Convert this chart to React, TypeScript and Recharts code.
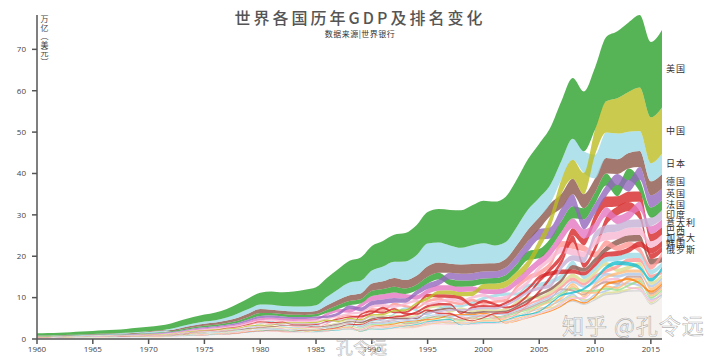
import { AreaChart, Area, XAxis, YAxis, ReferenceDot } from 'recharts';

// GDP, 万亿美元, 1960-2016
const years = Array.from({ length: 57 }, (_, i) => 1960 + i);

// sum of all countries as drawn (top edge of the stack)
const total = [
  1.37, 1.42, 1.53, 1.64, 1.8, 1.96, 2.13, 2.26, 2.44, 2.69,
  2.96, 3.26, 3.77, 4.59, 5.3, 5.9, 6.42, 7.26, 8.53, 9.93,
  11.2, 11.5, 11.3, 11.5, 11.9, 12.5, 14.8, 16.9, 18.9, 19.7,
  22.5, 23.7, 25.2, 25.6, 27.5, 30.7, 31.4, 31.2, 31.1, 32.3,
  33.4, 33.2, 34.4, 38.6, 43.5, 47.2, 51.1, 57.6, 63.1, 59.8,
  65.6, 73.0, 74.4, 76.5, 78.3, 71.8, 74.7,
];

const usa = [
  0.543, 0.563, 0.605, 0.638, 0.686, 0.744, 0.815, 0.862, 0.943, 1.02,
  1.073, 1.165, 1.28, 1.425, 1.545, 1.684, 1.873, 2.082, 2.352, 2.627,
  2.857, 3.207, 3.343, 3.634, 4.037, 4.339, 4.58, 4.855, 5.236, 5.642,
  5.963, 6.158, 6.52, 6.859, 7.287, 7.64, 8.073, 8.578, 9.063, 9.631,
  10.252, 10.582, 10.936, 11.458, 12.214, 13.037, 13.815, 14.452, 14.713, 14.449,
  14.992, 15.543, 16.197, 16.785, 17.527, 18.238, 18.745,
];
const china = [
  0.06, 0.05, 0.047, 0.051, 0.06, 0.071, 0.077, 0.073, 0.071, 0.08,
  0.093, 0.1, 0.114, 0.139, 0.144, 0.163, 0.154, 0.175, 0.149, 0.178,
  0.191, 0.196, 0.205, 0.231, 0.26, 0.309, 0.301, 0.273, 0.312, 0.348,
  0.361, 0.383, 0.427, 0.445, 0.564, 0.734, 0.864, 0.962, 1.029, 1.094,
  1.211, 1.339, 1.471, 1.66, 1.955, 2.286, 2.752, 3.552, 4.598, 5.11,
  6.101, 7.573, 8.561, 9.607, 10.482, 11.065, 11.191,
];
const japan = [
  0.044, 0.054, 0.06, 0.068, 0.082, 0.091, 0.106, 0.124, 0.147, 0.172,
  0.213, 0.24, 0.318, 0.432, 0.479, 0.522, 0.577, 0.721, 1.014, 1.055,
  1.105, 1.218, 1.135, 1.243, 1.318, 1.399, 2.079, 2.532, 3.072, 3.054,
  3.133, 3.585, 3.909, 4.454, 4.907, 5.449, 4.834, 4.414, 4.033, 4.562,
  4.888, 4.304, 4.115, 4.445, 4.815, 4.755, 4.53, 4.515, 5.038, 5.231,
  5.7, 6.157, 6.203, 5.155, 4.85, 4.395, 4.949,
];
const germany = [
  0.072, 0.08, 0.088, 0.094, 0.103, 0.114, 0.122, 0.125, 0.136, 0.154,
  0.216, 0.249, 0.3, 0.398, 0.445, 0.489, 0.52, 0.6, 0.74, 0.882,
  0.95, 0.801, 0.776, 0.77, 0.726, 0.744, 1.051, 1.303, 1.401, 1.398,
  1.765, 1.869, 2.132, 2.071, 2.206, 2.592, 2.504, 2.218, 2.243, 2.2,
  1.948, 1.945, 2.079, 2.505, 2.816, 2.846, 2.994, 3.425, 3.745, 3.411,
  3.417, 3.758, 3.544, 3.753, 3.89, 3.376, 3.467,
];
const uk = [
  0.073, 0.077, 0.081, 0.086, 0.094, 0.1, 0.106, 0.111, 0.105, 0.112,
  0.125, 0.14, 0.16, 0.186, 0.206, 0.242, 0.233, 0.263, 0.335, 0.438,
  0.565, 0.54, 0.515, 0.489, 0.462, 0.489, 0.601, 0.745, 0.91, 0.926,
  1.093, 1.142, 1.179, 1.061, 1.14, 1.335, 1.405, 1.553, 1.644, 1.687,
  1.665, 1.649, 1.786, 2.064, 2.422, 2.539, 2.713, 3.101, 2.923, 2.411,
  2.475, 2.659, 2.704, 2.786, 3.065, 2.933, 2.694,
];
const france = [
  0.062, 0.068, 0.076, 0.085, 0.094, 0.101, 0.11, 0.119, 0.13, 0.141,
  0.148, 0.166, 0.204, 0.264, 0.286, 0.36, 0.373, 0.41, 0.507, 0.613,
  0.701, 0.615, 0.585, 0.559, 0.53, 0.553, 0.771, 0.934, 1.019, 1.025,
  1.269, 1.269, 1.401, 1.322, 1.394, 1.601, 1.605, 1.452, 1.503, 1.492,
  1.362, 1.377, 1.494, 1.841, 2.116, 2.196, 2.319, 2.657, 2.918, 2.69,
  2.643, 2.862, 2.681, 2.808, 2.85, 2.434, 2.466,
];
const india = [
  0.037, 0.039, 0.042, 0.048, 0.056, 0.059, 0.046, 0.05, 0.053, 0.058,
  0.062, 0.067, 0.071, 0.085, 0.099, 0.098, 0.102, 0.121, 0.137, 0.152,
  0.186, 0.196, 0.204, 0.222, 0.216, 0.235, 0.253, 0.283, 0.301, 0.301,
  0.327, 0.274, 0.293, 0.284, 0.333, 0.367, 0.4, 0.423, 0.429, 0.467,
  0.477, 0.494, 0.524, 0.618, 0.722, 0.834, 0.949, 1.239, 1.224, 1.365,
  1.708, 1.823, 1.828, 1.857, 2.039, 2.104, 2.274,
];
const italy = [
  0.04, 0.045, 0.05, 0.058, 0.063, 0.067, 0.073, 0.081, 0.087, 0.097,
  0.113, 0.124, 0.145, 0.175, 0.2, 0.227, 0.226, 0.258, 0.316, 0.394,
  0.477, 0.43, 0.427, 0.441, 0.436, 0.449, 0.644, 0.806, 0.89, 0.926,
  1.178, 1.243, 1.316, 1.063, 1.102, 1.171, 1.312, 1.242, 1.271, 1.253,
  1.146, 1.168, 1.271, 1.576, 1.806, 1.857, 1.948, 2.212, 2.408, 2.199,
  2.136, 2.294, 2.087, 2.141, 2.159, 1.835, 1.865,
];
const brazil = [
  0.015, 0.015, 0.02, 0.023, 0.021, 0.022, 0.027, 0.031, 0.033, 0.037,
  0.042, 0.049, 0.058, 0.083, 0.109, 0.124, 0.153, 0.177, 0.201, 0.224,
  0.235, 0.263, 0.281, 0.203, 0.209, 0.223, 0.268, 0.294, 0.33, 0.425,
  0.462, 0.602, 0.4, 0.437, 0.558, 0.769, 0.85, 0.883, 0.864, 0.6,
  0.655, 0.56, 0.51, 0.558, 0.669, 0.892, 1.108, 1.397, 1.696, 1.667,
  2.209, 2.616, 2.465, 2.473, 2.456, 1.802, 1.796,
];
const canada = [
  0.041, 0.041, 0.042, 0.045, 0.049, 0.054, 0.06, 0.064, 0.07, 0.077,
  0.088, 0.1, 0.114, 0.131, 0.16, 0.174, 0.207, 0.212, 0.219, 0.243,
  0.274, 0.306, 0.314, 0.341, 0.354, 0.364, 0.377, 0.432, 0.507, 0.566,
  0.594, 0.61, 0.592, 0.578, 0.579, 0.604, 0.629, 0.654, 0.634, 0.679,
  0.744, 0.739, 0.76, 0.895, 1.026, 1.173, 1.319, 1.469, 1.553, 1.371,
  1.613, 1.789, 1.824, 1.842, 1.799, 1.556, 1.528,
];
const korea = [
  0.004, 0.002, 0.003, 0.004, 0.003, 0.003, 0.004, 0.005, 0.006, 0.008,
  0.009, 0.01, 0.011, 0.014, 0.019, 0.022, 0.03, 0.039, 0.052, 0.066,
  0.065, 0.072, 0.078, 0.087, 0.097, 0.101, 0.116, 0.147, 0.196, 0.243,
  0.279, 0.326, 0.35, 0.386, 0.455, 0.556, 0.598, 0.558, 0.375, 0.486,
  0.562, 0.533, 0.609, 0.681, 0.765, 0.898, 1.012, 1.123, 1.002, 0.902,
  1.094, 1.202, 1.223, 1.306, 1.411, 1.383, 1.415,
];
const russia = [
  0, 0, 0, 0, 0, 0, 0, 0, 0, 0,
  0, 0, 0, 0, 0, 0, 0, 0, 0, 0,
  0, 0, 0, 0, 0, 0, 0, 0, 0, 0.506,
  0.517, 0.518, 0.46, 0.435, 0.395, 0.395, 0.392, 0.405, 0.271, 0.196,
  0.26, 0.307, 0.345, 0.43, 0.591, 0.764, 0.99, 1.3, 1.661, 1.223,
  1.525, 2.032, 2.17, 2.231, 2.064, 1.366, 1.285,
];
const spain = [
  0.012, 0.014, 0.016, 0.019, 0.022, 0.025, 0.029, 0.032, 0.032, 0.037,
  0.041, 0.046, 0.056, 0.072, 0.088, 0.105, 0.107, 0.117, 0.14, 0.182,
  0.232, 0.203, 0.196, 0.171, 0.172, 0.18, 0.251, 0.318, 0.375, 0.413,
  0.535, 0.576, 0.63, 0.525, 0.529, 0.612, 0.64, 0.588, 0.617, 0.633,
  0.596, 0.627, 0.708, 0.907, 1.069, 1.157, 1.265, 1.479, 1.636, 1.499,
  1.432, 1.489, 1.337, 1.362, 1.38, 1.199, 1.238,
];
const australia = [
  0.019, 0.02, 0.02, 0.022, 0.024, 0.026, 0.027, 0.03, 0.032, 0.036,
  0.041, 0.045, 0.052, 0.064, 0.088, 0.097, 0.105, 0.11, 0.118, 0.134,
  0.15, 0.177, 0.193, 0.177, 0.193, 0.18, 0.182, 0.189, 0.236, 0.299,
  0.311, 0.326, 0.325, 0.312, 0.323, 0.368, 0.401, 0.435, 0.399, 0.389,
  0.415, 0.378, 0.394, 0.466, 0.612, 0.693, 0.747, 0.853, 1.055, 0.928,
  1.146, 1.397, 1.546, 1.577, 1.468, 1.351, 1.209,
];
const mexico = [
  0.013, 0.014, 0.015, 0.017, 0.02, 0.022, 0.024, 0.026, 0.029, 0.031,
  0.035, 0.039, 0.045, 0.055, 0.072, 0.088, 0.089, 0.082, 0.103, 0.135,
  0.205, 0.263, 0.184, 0.156, 0.184, 0.195, 0.134, 0.147, 0.181, 0.221,
  0.262, 0.314, 0.363, 0.5, 0.527, 0.36, 0.411, 0.5, 0.527, 0.6,
  0.708, 0.756, 0.772, 0.729, 0.782, 0.877, 0.975, 1.053, 1.109, 0.9,
  1.058, 1.18, 1.201, 1.274, 1.315, 1.171, 1.078,
];
const indonesia = [
  0.005, 0.005, 0.005, 0.005, 0.005, 0.005, 0.005, 0.006, 0.008, 0.009,
  0.009, 0.01, 0.011, 0.016, 0.025, 0.03, 0.037, 0.046, 0.052, 0.051,
  0.072, 0.085, 0.09, 0.081, 0.085, 0.085, 0.08, 0.075, 0.084, 0.095,
  0.106, 0.117, 0.128, 0.158, 0.177, 0.202, 0.227, 0.216, 0.096, 0.14,
  0.165, 0.16, 0.196, 0.235, 0.257, 0.286, 0.365, 0.432, 0.51, 0.54,
  0.755, 0.893, 0.918, 0.913, 0.891, 0.861, 0.932,
];
const turkey = [
  0.014, 0.008, 0.009, 0.01, 0.011, 0.012, 0.014, 0.016, 0.017, 0.019,
  0.017, 0.016, 0.02, 0.025, 0.034, 0.042, 0.051, 0.059, 0.065, 0.089,
  0.068, 0.071, 0.064, 0.061, 0.059, 0.067, 0.075, 0.086, 0.09, 0.107,
  0.151, 0.15, 0.158, 0.18, 0.131, 0.169, 0.181, 0.19, 0.276, 0.256,
  0.273, 0.201, 0.24, 0.315, 0.409, 0.506, 0.557, 0.681, 0.77, 0.649,
  0.777, 0.838, 0.88, 0.957, 0.939, 0.864, 0.863,
];
const netherlands = [
  0.012, 0.013, 0.014, 0.015, 0.018, 0.02, 0.021, 0.023, 0.026, 0.029,
  0.038, 0.043, 0.052, 0.068, 0.082, 0.094, 0.105, 0.124, 0.151, 0.174,
  0.193, 0.164, 0.159, 0.154, 0.143, 0.143, 0.201, 0.245, 0.263, 0.259,
  0.318, 0.328, 0.361, 0.349, 0.374, 0.447, 0.447, 0.415, 0.433, 0.447,
  0.416, 0.431, 0.471, 0.579, 0.657, 0.685, 0.733, 0.847, 0.951, 0.87,
  0.847, 0.905, 0.839, 0.877, 0.891, 0.765, 0.777,
];
const saudi = [
  0.003, 0.003, 0.003, 0.003, 0.004, 0.004, 0.004, 0.004, 0.005, 0.005,
  0.005, 0.007, 0.009, 0.015, 0.046, 0.047, 0.064, 0.075, 0.08, 0.111,
  0.164, 0.184, 0.153, 0.129, 0.119, 0.104, 0.086, 0.085, 0.088, 0.095,
  0.117, 0.132, 0.137, 0.132, 0.135, 0.143, 0.159, 0.166, 0.146, 0.161,
  0.19, 0.184, 0.189, 0.215, 0.258, 0.328, 0.377, 0.416, 0.52, 0.429,
  0.528, 0.671, 0.736, 0.747, 0.756, 0.654, 0.645,
];
const switzerland = [
  0.009, 0.01, 0.011, 0.012, 0.014, 0.015, 0.016, 0.017, 0.018, 0.02,
  0.023, 0.028, 0.034, 0.045, 0.052, 0.062, 0.066, 0.068, 0.094, 0.103,
  0.119, 0.111, 0.112, 0.113, 0.109, 0.111, 0.155, 0.192, 0.204, 0.196,
  0.256, 0.259, 0.265, 0.257, 0.282, 0.331, 0.32, 0.281, 0.289, 0.282,
  0.271, 0.278, 0.301, 0.352, 0.393, 0.408, 0.43, 0.479, 0.555, 0.541,
  0.584, 0.696, 0.666, 0.688, 0.709, 0.68, 0.669,
];
const argentina = [
  0.02, 0.022, 0.024, 0.025, 0.028, 0.029, 0.026, 0.025, 0.026, 0.031,
  0.031, 0.033, 0.034, 0.052, 0.072, 0.052, 0.051, 0.056, 0.058, 0.069,
  0.077, 0.078, 0.084, 0.103, 0.08, 0.088, 0.11, 0.111, 0.126, 0.076,
  0.141, 0.19, 0.229, 0.237, 0.258, 0.258, 0.272, 0.293, 0.299, 0.284,
  0.284, 0.269, 0.098, 0.128, 0.165, 0.199, 0.233, 0.288, 0.361, 0.333,
  0.424, 0.53, 0.546, 0.552, 0.527, 0.595, 0.555,
];
const sweden = [
  0.015, 0.016, 0.017, 0.019, 0.021, 0.023, 0.025, 0.027, 0.029, 0.031,
  0.037, 0.039, 0.046, 0.055, 0.063, 0.077, 0.085, 0.089, 0.098, 0.114,
  0.131, 0.126, 0.112, 0.102, 0.106, 0.11, 0.146, 0.175, 0.198, 0.213,
  0.258, 0.27, 0.28, 0.209, 0.226, 0.264, 0.289, 0.263, 0.266, 0.271,
  0.262, 0.24, 0.264, 0.334, 0.385, 0.389, 0.42, 0.487, 0.514, 0.43,
  0.488, 0.564, 0.544, 0.579, 0.574, 0.498, 0.512,
];
const belgium = [
  0.012, 0.012, 0.013, 0.014, 0.016, 0.017, 0.019, 0.02, 0.021, 0.024,
  0.027, 0.03, 0.037, 0.048, 0.056, 0.066, 0.071, 0.084, 0.103, 0.118,
  0.127, 0.105, 0.093, 0.088, 0.084, 0.087, 0.12, 0.149, 0.161, 0.165,
  0.206, 0.211, 0.234, 0.223, 0.243, 0.289, 0.281, 0.256, 0.262, 0.261,
  0.238, 0.238, 0.259, 0.318, 0.37, 0.387, 0.41, 0.471, 0.518, 0.484,
  0.483, 0.527, 0.497, 0.521, 0.531, 0.456, 0.467,
];
const poland = [
  0, 0, 0, 0, 0, 0, 0, 0, 0, 0,
  0, 0, 0, 0, 0, 0, 0, 0, 0, 0,
  0, 0, 0, 0, 0, 0, 0, 0, 0, 0,
  0.065, 0.086, 0.094, 0.096, 0.11, 0.142, 0.16, 0.16, 0.175, 0.169,
  0.172, 0.191, 0.199, 0.218, 0.255, 0.306, 0.345, 0.429, 0.534, 0.439,
  0.479, 0.528, 0.5, 0.524, 0.545, 0.477, 0.471,
];
const iran = [
  0.004, 0.004, 0.005, 0.005, 0.005, 0.006, 0.007, 0.007, 0.008, 0.009,
  0.011, 0.013, 0.017, 0.027, 0.046, 0.052, 0.068, 0.08, 0.077, 0.09,
  0.094, 0.1, 0.125, 0.157, 0.162, 0.181, 0.21, 0.152, 0.125, 0.124,
  0.124, 0.138, 0.11, 0.075, 0.066, 0.09, 0.115, 0.113, 0.112, 0.104,
  0.11, 0.127, 0.128, 0.153, 0.183, 0.226, 0.266, 0.35, 0.406, 0.414,
  0.487, 0.584, 0.599, 0.467, 0.434, 0.385, 0.418,
];
const norway = [
  0.005, 0.006, 0.006, 0.007, 0.007, 0.008, 0.009, 0.01, 0.01, 0.011,
  0.013, 0.015, 0.017, 0.022, 0.026, 0.031, 0.035, 0.04, 0.044, 0.051,
  0.064, 0.064, 0.064, 0.062, 0.062, 0.065, 0.078, 0.092, 0.098, 0.1,
  0.119, 0.121, 0.13, 0.119, 0.127, 0.152, 0.163, 0.161, 0.154, 0.162,
  0.171, 0.174, 0.195, 0.229, 0.264, 0.309, 0.346, 0.401, 0.462, 0.386,
  0.429, 0.499, 0.51, 0.523, 0.499, 0.386, 0.371,
];
const austria = [
  0.007, 0.007, 0.008, 0.008, 0.009, 0.01, 0.011, 0.011, 0.012, 0.013,
  0.015, 0.017, 0.021, 0.028, 0.034, 0.039, 0.042, 0.051, 0.061, 0.072,
  0.082, 0.071, 0.071, 0.072, 0.067, 0.069, 0.097, 0.12, 0.128, 0.13,
  0.166, 0.173, 0.195, 0.19, 0.204, 0.241, 0.236, 0.212, 0.217, 0.216,
  0.197, 0.197, 0.212, 0.262, 0.301, 0.316, 0.336, 0.389, 0.43, 0.4,
  0.392, 0.431, 0.409, 0.43, 0.442, 0.382, 0.39,
];
const southAfrica = [
  0.008, 0.008, 0.009, 0.01, 0.011, 0.012, 0.013, 0.014, 0.015, 0.017,
  0.018, 0.02, 0.021, 0.029, 0.036, 0.037, 0.037, 0.041, 0.047, 0.057,
  0.083, 0.085, 0.078, 0.087, 0.077, 0.058, 0.068, 0.089, 0.097, 0.101,
  0.116, 0.124, 0.134, 0.134, 0.139, 0.155, 0.147, 0.153, 0.138, 0.136,
  0.136, 0.121, 0.116, 0.176, 0.229, 0.258, 0.272, 0.299, 0.287, 0.297,
  0.375, 0.416, 0.397, 0.367, 0.351, 0.318, 0.296,
];

const countries = [
  { name: '美国', values: usa, color: '#2ca02c', label: true },
  { name: '中国', values: china, color: '#bcbd22', label: true },
  { name: '日本', values: japan, color: '#9edae5', label: true },
  { name: '德国', values: germany, color: '#8c564b', label: true },
  { name: '英国', values: uk, color: '#9467bd', label: true },
  { name: '法国', values: france, color: '#2ca02c', label: true },
  { name: '印度', values: india, color: '#c5b0d5', label: true },
  { name: '意大利', values: italy, color: '#e377c2', label: true },
  { name: '巴西', values: brazil, color: '#d62728', label: true },
  { name: '加拿大', values: canada, color: '#f7b6d2', label: true },
  { name: '韩国', values: korea, color: '#d62728', label: true },
  { name: '俄罗斯', values: russia, color: '#d62728', label: true },
  { name: '西班牙', values: spain, color: '#ff9896', label: false },
  { name: '澳大利亚', values: australia, color: '#8c564b', label: false },
  { name: '墨西哥', values: mexico, color: '#9edae5', label: false },
  { name: '印度尼西亚', values: indonesia, color: '#17becf', label: false },
  { name: '土耳其', values: turkey, color: '#ff9896', label: false },
  { name: '荷兰', values: netherlands, color: '#dbdb8d', label: false },
  { name: '沙特阿拉伯', values: saudi, color: '#ffbb78', label: false },
  { name: '瑞士', values: switzerland, color: '#aec7e8', label: false },
  { name: '阿根廷', values: argentina, color: '#ff7f0e', label: false },
  { name: '瑞典', values: sweden, color: '#c49c94', label: false },
  { name: '比利时', values: belgium, color: '#98df8a', label: false },
  { name: '波兰', values: poland, color: '#ffbb78', label: false },
  { name: '伊朗', values: iran, color: '#f7b6d2', label: false },
  { name: '挪威', values: norway, color: '#aec7e8', label: false },
  { name: '奥地利', values: austria, color: '#dbdb8d', label: false },
  { name: '南非', values: southAfrica, color: '#c7c7c7', label: false },
];

const xTicks = [1960, 1965, 1970, 1975, 1980, 1985, 1990, 1995, 2000, 2005, 2010, 2015];
const yTicks = [0, 10, 20, 30, 40, 50, 60, 70];

// rank stacking: every year the biggest economy sits on top, the rest goes to the bottom
const data = years.map((year, i) => {
  const row: any = { year };
  const named = countries.reduce((s, c) => s + c.values[i], 0);
  const rest = Math.max(0, total[i] - named);
  row['其他'] = [0, rest];
  let acc = rest;
  [...countries]
    .sort((a, b) => a.values[i] - b.values[i])
    .forEach((c) => {
      row[c.name] = [acc, acc + c.values[i]];
      acc += c.values[i];
    });
  return row;
});

const last = data[data.length - 1];
const cjk = '"Noto Sans CJK SC", "Noto Sans", sans-serif';
const tickStyle = { fontSize: 8, fill: '#444', fontFamily: '"Open Sans", sans-serif' };

export default function App() {
  return (
    <div style={{ position: 'absolute', left: 0, top: 0, width: 720, height: 360, background: '#fff', fontFamily: cjk }}>
      <AreaChart width={720} height={360} data={data} margin={{ top: 15, right: 58, bottom: 0, left: 0 }}>
        <XAxis
          dataKey="year"
          type="number"
          domain={[1960, 2016]}
          ticks={xTicks}
          tick={tickStyle}
          tickSize={5}
          tickMargin={2}
          height={21}
          stroke="#555"
          strokeWidth={1.5}
        />
        <YAxis
          domain={[0, 'dataMax']}
          ticks={yTicks}
          tick={tickStyle}
          tickSize={5}
          tickMargin={6}
          width={37}
          stroke="#555"
          strokeWidth={1.5}
        />
        <Area
          type="monotone"
          dataKey="其他"
          stroke="none"
          fill="#f3eeea"
          fillOpacity={0.8}
          isAnimationActive={false}
        />
        {[...countries].reverse().map((c) => (
          <Area
            key={c.name}
            type="monotone"
            dataKey={c.name}
            stroke="none"
            fill={c.color}
            fillOpacity={0.8}
            isAnimationActive={false}
          />
        ))}
        {countries
          .filter((c) => c.label)
          .map((c) => (
            <ReferenceDot
              key={'lbl-' + c.name}
              x={2016}
              y={(last[c.name][0] + last[c.name][1]) / 2}
              r={1}
              fill="none"
              stroke="none"
              label={{
                value: c.name,
                position: 'right',
                offset: 3,
                fontSize: 9,
                fill: '#333',
                letterSpacing: 1,
                fontFamily: cjk,
              }}
            />
          ))}
      </AreaChart>

      <div
        style={{
          position: 'absolute',
          left: 0,
          width: 720,
          top: 5,
          textAlign: 'center',
          fontSize: 16,
          fontWeight: 500,
          letterSpacing: 3,
          color: '#555',
        }}
      >
        世界各国历年GDP及排名变化
      </div>
      <div
        style={{
          position: 'absolute',
          left: 0,
          width: 720,
          top: 28,
          textAlign: 'center',
          fontSize: 8,
          letterSpacing: 0.5,
          color: '#333',
        }}
      >
        数据来源|世界银行
      </div>
      <div
        style={{
          position: 'absolute',
          left: 40,
          top: 15,
          writingMode: 'vertical-rl',
          fontSize: 8,
          lineHeight: '9px',
          letterSpacing: 0.5,
          color: '#444',
        }}
      >
        万亿（美元）
      </div>
      <div
        style={{
          position: 'absolute',
          left: 562,
          top: 308,
          fontSize: 22,
          color: 'rgba(255,255,255,0.55)',
          WebkitTextStroke: '0.6px rgba(110,110,110,0.55)',
          letterSpacing: 1,
        }}
      >
        知乎 @孔令远
      </div>
      <div
        style={{
          position: 'absolute',
          left: 336,
          top: 334,
          fontSize: 17,
          color: 'rgba(255,255,255,0.55)',
          WebkitTextStroke: '0.6px rgba(110,110,110,0.5)',
        }}
      >
        孔令远
      </div>
    </div>
  );
}
